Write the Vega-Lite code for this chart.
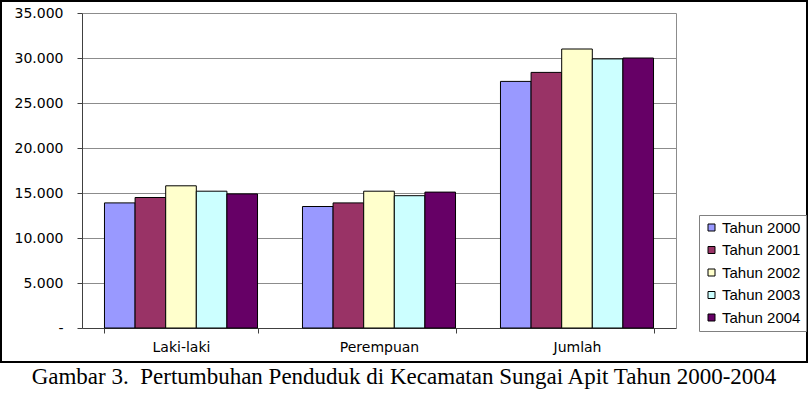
{
  "$schema": "https://vega.github.io/schema/vega-lite/v6.json",
  "width": 806,
  "height": 361,
  "autosize": {"type": "none"},
  "padding": {"left": 1, "top": 1, "right": 1, "bottom": 35},
  "background": "white",
  "config": {
    "view": {"stroke": "black", "strokeWidth": 2},
    "axis": {
      "labelFont": "DejaVu Sans",
      "labelFontSize": 14,
      "labelColor": "black",
      "domainColor": "#404040",
      "tickColor": "#404040",
      "tickSize": 5,
      "gridColor": "#8c8c8c",
      "title": null
    },
    "legend": {
      "strokeColor": "#808080",
      "fillColor": "white",
      "padding": 5,
      "rowPadding": 6.5,
      "labelOffset": 3,
      "labelFont": "Liberation Sans",
      "labelFontSize": 15,
      "labelColor": "black",
      "symbolType": "square",
      "symbolSize": 49,
      "symbolStrokeColor": "black",
      "symbolStrokeWidth": 1
    }
  },
  "title": {
    "text": "Gambar 3.\u00a0 Pertumbuhan Penduduk di Kecamatan Sungai Apit Tahun 2000-2004",
    "orient": "bottom",
    "anchor": "middle",
    "font": "Liberation Serif",
    "fontSize": 23,
    "fontWeight": "normal",
    "color": "black",
    "offset": 4
  },
  "data": {
    "values": [
      {"kategori": "Laki-laki", "tahun": "Tahun 2000", "jumlah": 13900},
      {"kategori": "Laki-laki", "tahun": "Tahun 2001", "jumlah": 14500},
      {"kategori": "Laki-laki", "tahun": "Tahun 2002", "jumlah": 15800},
      {"kategori": "Laki-laki", "tahun": "Tahun 2003", "jumlah": 15200},
      {"kategori": "Laki-laki", "tahun": "Tahun 2004", "jumlah": 14900},
      {"kategori": "Perempuan", "tahun": "Tahun 2000", "jumlah": 13500},
      {"kategori": "Perempuan", "tahun": "Tahun 2001", "jumlah": 13900},
      {"kategori": "Perempuan", "tahun": "Tahun 2002", "jumlah": 15200},
      {"kategori": "Perempuan", "tahun": "Tahun 2003", "jumlah": 14700},
      {"kategori": "Perempuan", "tahun": "Tahun 2004", "jumlah": 15100},
      {"kategori": "Jumlah", "tahun": "Tahun 2000", "jumlah": 27400},
      {"kategori": "Jumlah", "tahun": "Tahun 2001", "jumlah": 28400},
      {"kategori": "Jumlah", "tahun": "Tahun 2002", "jumlah": 31000},
      {"kategori": "Jumlah", "tahun": "Tahun 2003", "jumlah": 29900},
      {"kategori": "Jumlah", "tahun": "Tahun 2004", "jumlah": 30000}
    ]
  },
  "layer": [
    {
      "mark": {"type": "bar", "stroke": "black", "strokeWidth": 1},
      "encoding": {
        "x": {
          "field": "kategori",
          "type": "nominal",
          "sort": ["Laki-laki", "Perempuan", "Jumlah"],
          "scale": {"range": [81, 675], "paddingInner": 0.227, "paddingOuter": 0.1135},
          "axis": {"offset": -34, "tickBand": "extent", "labelAngle": 0, "labelPadding": 7, "grid": false}
        },
        "xOffset": {
          "field": "tahun",
          "type": "nominal",
          "scale": {"paddingInner": 0, "paddingOuter": 0}
        },
        "y": {
          "field": "jumlah",
          "type": "quantitative",
          "scale": {"domain": [0, 35000], "range": [327, 12], "nice": false},
          "axis": {
            "offset": -81,
            "values": [0, 5000, 10000, 15000, 20000, 25000, 30000, 35000],
            "grid": true,
            "labelPadding": 14,
            "labelExpr": "datum.value == 0 ? '-' : replace(format(datum.value, ','), ',', '.')"
          }
        },
        "color": {
          "field": "tahun",
          "type": "nominal",
          "scale": {
            "domain": ["Tahun 2000", "Tahun 2001", "Tahun 2002", "Tahun 2003", "Tahun 2004"],
            "range": ["#9999FF", "#993366", "#FFFFCC", "#CCFFFF", "#660066"]
          },
          "legend": {"orient": "none", "legendX": 698, "legendY": 214, "title": null}
        }
      }
    },
    {
      "mark": {"type": "point", "opacity": 0},
      "encoding": {
        "y": {
          "field": "jumlah",
          "type": "quantitative",
          "scale": {"domain": [0, 35000], "range": [327, 12], "nice": false},
          "axis": {"orient": "right", "offset": -131, "labels": false, "ticks": false, "grid": false, "domainColor": "#8c8c8c"}
        }
      }
    }
  ],
  "resolve": {"axis": {"y": "independent"}}
}
